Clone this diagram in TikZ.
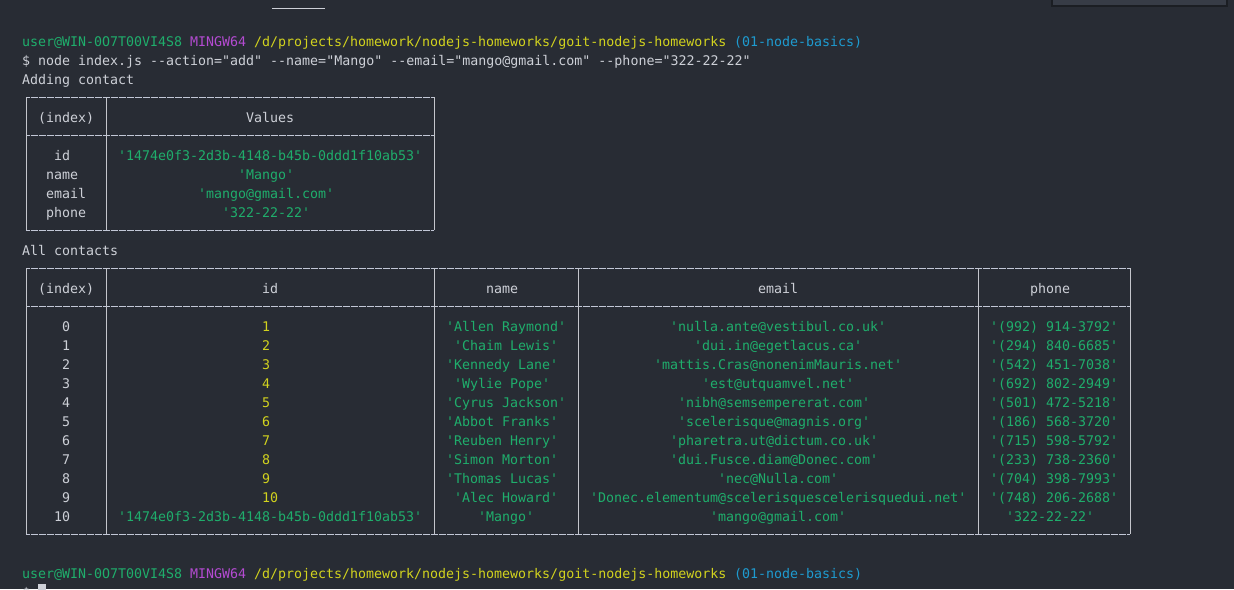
\documentclass[tikz,border=0pt]{standalone}
\usepackage{fontspec}
\setmonofont{DejaVu Sans Mono}
\definecolor{bg}{HTML}{282C34}
\definecolor{fg}{HTML}{CDD0D7}
\definecolor{tgreen}{HTML}{1FAE6C}
\definecolor{tyellow}{HTML}{D2D31E}
\definecolor{tmag}{HTML}{B44BD2}
\definecolor{tblue}{HTML}{1E9BD0}
\definecolor{hline}{HTML}{C2C7D6}
\definecolor{vline}{HTML}{C4C6CC}
\definecolor{panel}{HTML}{373C46}
\definecolor{panelb}{HTML}{1B1E23}
\tikzset{
  txt/.style={anchor=base west, inner sep=0pt, outer sep=0pt,
    font=\ttfamily\fontsize{13.3pt}{19pt}\selectfont},
  hrule/.style={draw=hline, line width=1pt, dash pattern=on 7pt off 1pt, dash phase=3.5pt},
  vrule/.style={draw=vline, line width=1pt},
}
% name, column, row, text, colour
\newcommand\tx[5]{\node[txt,text=#5] (#1) at ({22+8*(#2)},{46+19*(#3)}) {#4};}
\begin{document}
\begin{tikzpicture}[x=1pt,y=-1pt]
\clip (0,0) rectangle (1234,589);
\fill[bg] (0,0) rectangle (1234,589);
\useasboundingbox (0,0) rectangle (1234,589);
% window decorations
\draw[fg, line width=1.5pt] (272,8.5) -- (325,8.5);
\filldraw[fill=panel, draw=panelb, line width=1.5pt] (1052,-3) rectangle (1227,6);
% prompt line
\tx{pu}{0}{0}{user@WIN-0O7T00VI4S8}{tgreen}
\tx{pm}{21}{0}{MINGW64}{tmag}
\tx{pp}{29}{0}{/d/projects/homework/nodejs-homeworks/goit-nodejs-homeworks}{tyellow}
\tx{pb}{89}{0}{(01-node-basics)}{tblue}
\tx{cmd}{0}{1}{\$ node index.js --action="add" --name="Mango" --email="mango@gmail.com" --phone="322-22-22"}{fg}
\tx{adding}{0}{2}{Adding contact}{fg}
% table 1
\draw[hrule] (26,97) -- (434,97);
\draw[hrule] (26,135) -- (434,135);
\draw[hrule] (26,230) -- (434,230);
\draw[vrule] (26,97) -- (26,230);
\draw[vrule] (106,97) -- (106,230);
\draw[vrule] (434,97) -- (434,230);
\tx{ah1}{2}{4}{(index)}{fg}
\tx{ah2}{28}{4}{Values}{fg}
\tx{ak1}{4}{6}{id}{fg}
\tx{ak2}{3}{7}{name}{fg}
\tx{ak3}{3}{8}{email}{fg}
\tx{ak4}{3}{9}{phone}{fg}
\tx{av1}{12}{6}{'1474e0f3-2d3b-4148-b45b-0ddd1f10ab53'}{tgreen}
\tx{av2}{27}{7}{'Mango'}{tgreen}
\tx{av3}{22}{8}{'mango@gmail.com'}{tgreen}
\tx{av4}{25}{9}{'322-22-22'}{tgreen}
\tx{all}{0}{11}{All contacts}{fg}
% table 2
\draw[hrule] (26,268) -- (1130,268);
\draw[hrule] (26,306) -- (1130,306);
\draw[hrule] (26,534) -- (1130,534);
\foreach \xx in {26,106,434,578,978,1130} {\draw[vrule] (\xx,268) -- (\xx,534);}
\tx{bh1}{2}{13}{(index)}{fg}
\tx{bh2}{30}{13}{id}{fg}
\tx{bh3}{58}{13}{name}{fg}
\tx{bh4}{92}{13}{email}{fg}
\tx{bh5}{126}{13}{phone}{fg}
% index column
\foreach \i in {0,...,9} {\tx{bi\i}{5}{15+\i}{\i}{fg}}
\tx{bi10}{4}{25}{10}{fg}
% id column
\foreach \i in {1,...,10} {\tx{bd\i}{30}{14+\i}{\i}{tyellow}}
\tx{bd11}{12}{25}{'1474e0f3-2d3b-4148-b45b-0ddd1f10ab53'}{tgreen}
% name column
\tx{bn0}{53}{15}{'Allen Raymond'}{tgreen}
\tx{bn1}{54}{16}{'Chaim Lewis'}{tgreen}
\tx{bn2}{53}{17}{'Kennedy Lane'}{tgreen}
\tx{bn3}{54}{18}{'Wylie Pope'}{tgreen}
\tx{bn4}{53}{19}{'Cyrus Jackson'}{tgreen}
\tx{bn5}{53}{20}{'Abbot Franks'}{tgreen}
\tx{bn6}{53}{21}{'Reuben Henry'}{tgreen}
\tx{bn7}{53}{22}{'Simon Morton'}{tgreen}
\tx{bn8}{53}{23}{'Thomas Lucas'}{tgreen}
\tx{bn9}{54}{24}{'Alec Howard'}{tgreen}
\tx{bn10}{57}{25}{'Mango'}{tgreen}
% email column
\tx{be0}{81}{15}{'nulla.ante@vestibul.co.uk'}{tgreen}
\tx{be1}{84}{16}{'dui.in@egetlacus.ca'}{tgreen}
\tx{be2}{79}{17}{'mattis.Cras@nonenimMauris.net'}{tgreen}
\tx{be3}{85}{18}{'est@utquamvel.net'}{tgreen}
\tx{be4}{82}{19}{'nibh@semsempererat.com'}{tgreen}
\tx{be5}{82}{20}{'scelerisque@magnis.org'}{tgreen}
\tx{be6}{81}{21}{'pharetra.ut@dictum.co.uk'}{tgreen}
\tx{be7}{81}{22}{'dui.Fusce.diam@Donec.com'}{tgreen}
\tx{be8}{87}{23}{'nec@Nulla.com'}{tgreen}
\tx{be9}{71}{24}{'Donec.elementum@scelerisquescelerisquedui.net'}{tgreen}
\tx{be10}{86}{25}{'mango@gmail.com'}{tgreen}
% phone column
\tx{bp0}{121}{15}{'(992) 914-3792'}{tgreen}
\tx{bp1}{121}{16}{'(294) 840-6685'}{tgreen}
\tx{bp2}{121}{17}{'(542) 451-7038'}{tgreen}
\tx{bp3}{121}{18}{'(692) 802-2949'}{tgreen}
\tx{bp4}{121}{19}{'(501) 472-5218'}{tgreen}
\tx{bp5}{121}{20}{'(186) 568-3720'}{tgreen}
\tx{bp6}{121}{21}{'(715) 598-5792'}{tgreen}
\tx{bp7}{121}{22}{'(233) 738-2360'}{tgreen}
\tx{bp8}{121}{23}{'(704) 398-7993'}{tgreen}
\tx{bp9}{121}{24}{'(748) 206-2688'}{tgreen}
\tx{bp10}{123}{25}{'322-22-22'}{tgreen}
% final prompt
\tx{qu}{0}{28}{user@WIN-0O7T00VI4S8}{tgreen}
\tx{qm}{21}{28}{MINGW64}{tmag}
\tx{qp}{29}{28}{/d/projects/homework/nodejs-homeworks/goit-nodejs-homeworks}{tyellow}
\tx{qb}{89}{28}{(01-node-basics)}{tblue}
\tx{qd}{0}{29}{\$}{fg}
\fill[fg] (38,584) rectangle (46,600);
\end{tikzpicture}
\end{document}
